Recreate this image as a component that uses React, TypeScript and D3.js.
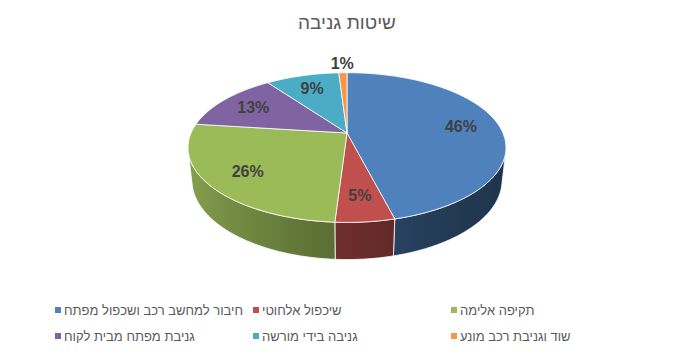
import * as d3 from "d3";

const categories = [
  "חיבור למחשב רכב ושכפול מפתח",
  "שיכפול אלחוטי",
  "תקיפה אלימה",
  "גניבת מפתח מבית לקוח",
  "גניבה בידי מורשה",
  "שוד וגניבת רכב מונע",
];
const values = [46, 5, 26, 13, 9, 1];
const colors = ["#4F81BD", "#C0504D", "#9BBB59", "#8064A2", "#4BACC6", "#F79646"];
const title = "שיטות גניבה";

const W = 694;
const H = 354;
const CX = 347;
const CY = 133;
const F = 711;
const D = 4.56;
const TILT = (27.5 * Math.PI) / 180;
const THICK = 0.2385;

const sT = Math.sin(TILT);
const cT = Math.cos(TILT);

// disc of radius 1 lying flat, seen from a tilted camera with perspective
function project(r: number, phi: number, y: number): [number, number] {
  const x = r * Math.sin(phi);
  const z = -r * Math.cos(phi);
  const yc = y * cT - z * sT;
  const depth = D - (y * sT + z * cT);
  return [CX + (F * x) / depth, CY - (F * yc) / depth];
}

function arc(r: number, a0: number, a1: number, y: number) {
  const n = Math.max(2, Math.ceil(Math.abs(a1 - a0) / (Math.PI / 180)));
  return d3.range(n + 1).map((i) => project(r, a0 + ((a1 - a0) * i) / n, y));
}

const line = d3.line();

// front part of the outer wall that faces the camera
const phiMin = Math.acos(-1 / (D * cT));
const phiMax = 2 * Math.PI - phiMin;

function shade(color: string, phi: number) {
  const k = 0.4 + 0.48 * Math.pow((1 - Math.sin(phi)) / 2, 1.5);
  const c = d3.rgb(color);
  return d3.rgb(c.r * k, c.g * k, c.b * k).formatHex();
}

export default function App() {
  const pie = d3
    .pie<number>()
    .sort(null)
    .startAngle(0)
    .endAngle(2 * Math.PI);
  const arcs = pie(values);
  const total = d3.sum(values);

  const walls = arcs
    .map((a, i) => {
      const a0 = Math.max(a.startAngle, phiMin);
      const a1 = Math.min(a.endAngle, phiMax);
      if (a0 >= a1) return null;
      const top = arc(1, a0, a1, 0);
      const bottom = arc(1, a1, a0, -THICK);
      const x0 = project(1, a0, 0)[0];
      const x1 = project(1, a1, 0)[0];
      const stops = d3.range(9).map((j) => {
        const phi = a0 + ((a1 - a0) * j) / 8;
        const px = project(1, phi, 0)[0];
        return { offset: (px - x0) / (x1 - x0 || 1), color: shade(colors[i], phi) };
      });
      return { i, d: line([...top, ...bottom]) + "Z", x0, x1, stops };
    })
    .filter((w) => w !== null) as {
    i: number;
    d: string;
    x0: number;
    x1: number;
    stops: { offset: number; color: string }[];
  }[];

  const legendX = d3.scaleLinear().domain([0, 1]).range([58, 256]);
  const legendY = d3.scaleLinear().domain([0, 1]).range([310, 336]);

  return (
    <svg
      width={W}
      height={H}
      style={{ position: "absolute", left: 0, top: 0, background: "#fff" }}
    >
      <defs>
        {walls.map((w) => (
          <linearGradient
            key={w.i}
            id={`wall${w.i}`}
            gradientUnits="userSpaceOnUse"
            x1={w.x0}
            x2={w.x1}
            y1={0}
            y2={0}
          >
            {w.stops.map((s, j) => (
              <stop key={j} offset={s.offset} stopColor={s.color} />
            ))}
          </linearGradient>
        ))}
      </defs>
      <text
        x={W / 2}
        y={29}
        textAnchor="middle"
        fontFamily="Liberation Sans, DejaVu Sans, sans-serif"
        fontSize={19}
        fill="#595959"
      >
        {title}
      </text>

      <g stroke="#fff" strokeWidth={0.8} strokeLinejoin="round">
        {walls.map((w) => (
          <path key={w.i} d={w.d} fill={`url(#wall${w.i})`} />
        ))}
        {arcs.map((a, i) => (
          <path
            key={i}
            d={line([project(0, 0, 0), ...arc(1, a.startAngle, a.endAngle, 0)]) + "Z"}
            fill={colors[i]}
          />
        ))}
      </g>

      <g
        fontFamily="Liberation Sans, DejaVu Sans, sans-serif"
        fontWeight="bold"
        fontSize={16}
        fill="#404040"
        textAnchor="middle"
      >
        {arcs.map((a, i) => {
          const mid = (a.startAngle + a.endAngle) / 2;
          const small = a.value / total < 0.03;
          const [x, y] = project(small ? 1.2 : 0.75, mid, 0);
          return (
            <text key={i} x={x} y={y} dy="0.35em">
              {`${Math.round((a.value / total) * 100)}%`}
            </text>
          );
        })}
      </g>

      <g fontFamily="Liberation Sans, DejaVu Sans, sans-serif" fontSize={13} fill="#595959">
        {categories.map((c, i) => {
          const x = legendX(i % 3);
          const y = legendY(Math.floor(i / 3));
          return (
            <g key={i}>
              <rect x={x - 3} y={y - 3} width={6} height={6} fill={colors[i]} />
              <text x={x + 6} y={y} dy="0.35em">
                {c}
              </text>
            </g>
          );
        })}
      </g>
    </svg>
  );
}
